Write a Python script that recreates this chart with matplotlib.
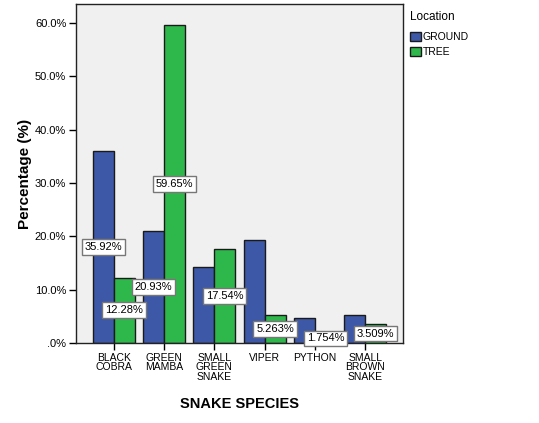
import numpy as np
import matplotlib
matplotlib.use('Agg')
import matplotlib.pyplot as plt

species = ['BLACK\nCOBRA', 'GREEN\nMAMBA', 'SMALL\nGREEN\nSNAKE', 'VIPER', 'PYTHON', 'SMALL\nBROWN\nSNAKE']
ground = [35.92, 20.93, 14.29, 19.26, 4.70, 5.22]
tree = [12.28, 59.65, 17.54, 5.263, 1.754, 3.509]
ground_lbl = ['35.92%', '20.93%', None, None, None, None]
tree_lbl = ['12.28%', '59.65%', '17.54%', '5.263%', '1.754%', '3.509%']
yticks = [0, 10, 20, 30, 40, 50, 60]
ytick_lbl = ['.0%', '10.0%', '20.0%', '30.0%', '40.0%', '50.0%', '60.0%']

plt.rcParams['font.family'] = ['Liberation Sans', 'DejaVu Sans']

fig = plt.figure(figsize=(5.39, 4.23), dpi=100)
W, H = 539.0, 423.0
ax = fig.add_axes([76/W, 1 - 343/H, (403-76)/W, (343-4)/H])
ax.set_facecolor('#f0f0f0')

x = np.arange(len(species))
bw = 0.415
ax.bar(x - bw/2, ground, bw, color='#3e58a8', edgecolor='#1a1a1a', linewidth=1.0, label='GROUND', zorder=2)
ax.bar(x + bw/2, tree, bw, color='#2eb84b', edgecolor='#1a1a1a', linewidth=1.0, label='TREE', zorder=2)

# value boxes at half bar height
box = dict(boxstyle='square,pad=0.25', fc='white', ec='#777777', lw=1.0)
for i in range(len(species)):
    if ground_lbl[i]:
        ax.text(x[i] - bw/2, ground[i]/2, ground_lbl[i], ha='center', va='center', fontsize=8, bbox=box, zorder=4)
    ax.text(x[i] + bw/2, tree[i]/2, tree_lbl[i], ha='center', va='center', fontsize=8, bbox=box, zorder=4)

ax.set_xlim(-0.75, len(species) - 0.25)
ax.set_ylim(0, 60 * 339/320)
ax.set_yticks(yticks)
ax.set_yticklabels(ytick_lbl, fontsize=8)
ax.set_xticks(x)
ax.set_xticklabels(species, fontsize=7.5, linespacing=0.95)
ax.tick_params(axis='both', direction='out', length=5, width=1, color='black', pad=2)
for s in ax.spines.values():
    s.set_color('#222222')
    s.set_linewidth(1.0)

ax.set_ylabel('Percentage (%)', fontsize=11, fontweight='bold', labelpad=2)
ax.set_xlabel('SNAKE SPECIES', fontsize=10.5, fontweight='bold', labelpad=11)

leg = ax.legend(loc='upper left', bbox_to_anchor=(1.0, 1.0), frameon=False, title='Location',
                fontsize=7.5, title_fontsize=8.5, handlelength=1.0, handleheight=1.0,
                handletextpad=0.2, borderaxespad=0.3, labelspacing=0.45)
leg._legend_box.align = 'left'
leg._legend_box.sep = 6

fig.savefig('out.png', dpi=100)
